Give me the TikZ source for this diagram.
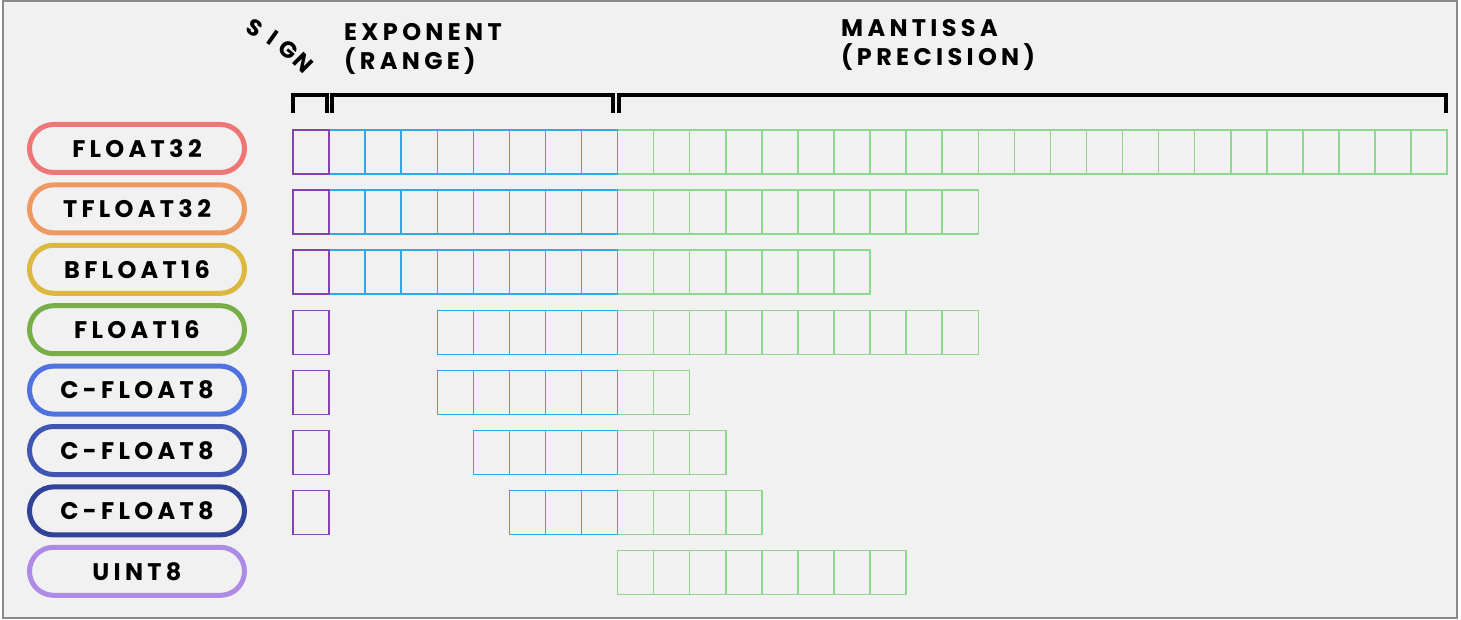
\documentclass[tikz,border=0pt]{standalone}
\usepackage{fontspec}
\setmainfont{Poppins}
\newfontfamily\lblfont{Poppins}[LetterSpace=18]
\definecolor{bg}{HTML}{F1F1F1}
\definecolor{bordergray}{HTML}{8A8A8A}
\definecolor{signc}{HTML}{8444B0}
\definecolor{expc}{HTML}{2FAAE2}
\definecolor{mantc}{HTML}{8FD68F}
\definecolor{c1}{HTML}{EE7676}
\definecolor{c2}{HTML}{EE9862}
\definecolor{c3}{HTML}{DDB840}
\definecolor{c4}{HTML}{78AE48}
\definecolor{c5}{HTML}{5072E0}
\definecolor{c6}{HTML}{3F55B2}
\definecolor{c7}{HTML}{314398}
\definecolor{c8}{HTML}{AC8AE6}
\tikzset{
  cell/.style={draw, line width=1.5pt, minimum width=36.07pt, minimum height=44pt, inner sep=0pt, outer sep=0pt},
  mcell/.style={cell, draw=mantc},
  ecell/.style={cell, draw=expc},
  scell/.style={cell, draw=signc},
  pill/.style={draw, line width=5pt, rounded corners=24pt, minimum width=215pt, minimum height=48pt, inner sep=0pt, font=\lblfont\bfseries\fontsize{24}{24}\selectfont},
  head/.style={anchor=west, inner sep=0pt, align=left, font=\lblfont\bfseries\fontsize{24}{29}\selectfont},
  sletter/.style={inner sep=0pt, font=\bfseries\fontsize{23}{23}\selectfont}
}
\begin{document}
\begin{tikzpicture}[x=1pt,y=-1pt]
\useasboundingbox (0,0) rectangle (1461,620);
\fill[white] (0,0) rectangle (1461,620);
\draw[line width=2pt, draw=bordergray, fill=bg] (3,1) rectangle (1457,618);
% headers
\node[sletter, rotate=-30] (sgS) at (255,28) {S};
\node[sletter, rotate=-35] (sgI) at (273,38) {I};
\node[sletter, rotate=-40] (sgG) at (288,50) {G};
\node[sletter, rotate=-45] (sgN) at (303,63) {N};
\node[head] (exph) at (344,49) {EXPONENT\\(RANGE)};
\node[head] (manh) at (841,45) {MANTISSA\\(PRECISION)};
% brackets
\draw[line width=4pt] (293,113) -- (293,95) -- (327,95) -- (327,113);
\draw[line width=4pt] (332,113) -- (332,95) -- (613,95) -- (613,113);
\draw[line width=4pt] (619,113) -- (619,95) -- (1446,95) -- (1446,113);
% cells
\def\cw{36.07}
\foreach \r/\e/\m/\s in {1/8/23/1, 2/8/10/1, 3/8/7/1, 4/5/10/1, 5/5/2/1, 6/4/3/1, 7/3/4/1, 8/0/8/0} {
  \pgfmathsetmacro\yc{152+60.1*(\r-1)}
  \ifnum\m>0
    \foreach \j in {1,...,\m} {
      \node[mcell] (m-\r-\j) at ({617.6+(\j-0.5)*\cw},\yc) {};
    }
  \fi
  \ifnum\e>0
    \foreach \j in {1,...,\e} {
      \node[ecell] (e-\r-\j) at ({617.6-(\j-0.5)*\cw},\yc) {};
    }
  \fi
  \ifnum\s>0
    \node[scell] (s-\r) at ({293+0.5*\cw},\yc) {};
  \fi
}
% labels
\node[pill, draw=c1] (l1) at (137,148.5) {FLOAT32};
\node[pill, draw=c2] (l2) at (137,208.9) {TFLOAT32};
\node[pill, draw=c3] (l3) at (137,269.3) {BFLOAT16};
\node[pill, draw=c4] (l4) at (137,329.7) {FLOAT16};
\node[pill, draw=c5] (l5) at (137,390.1) {C-FLOAT8};
\node[pill, draw=c6] (l6) at (137,450.5) {C-FLOAT8};
\node[pill, draw=c7] (l7) at (137,510.9) {C-FLOAT8};
\node[pill, draw=c8] (l8) at (137,571.3) {UINT8};
\end{tikzpicture}
\end{document}
